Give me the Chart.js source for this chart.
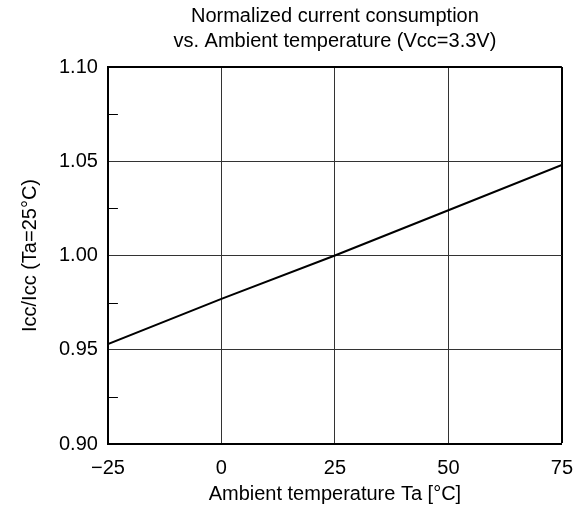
<!DOCTYPE html>
<html>
<head>
<meta charset="utf-8">
<script src="https://cdn.jsdelivr.net/npm/chart.js@4"></script>
<style>
  html, body { margin: 0; padding: 0; background: #fff; }
  #wrap { width: 587px; height: 511px; }
</style>
</head>
<body>
<div id="wrap"><canvas id="myChart" width="587" height="511"></canvas></div>
<script>
// values
const temps = [-25, 0, 25, 50, 75];
const ratio = [0.953, 0.977, 1.000, 1.024, 1.048];
const xTicks = [-25, 0, 25, 50, 75];
const yTicks = ['0.90', '0.95', '1.00', '1.05', '1.10'];

const font = 'Liberation Sans, Arial, sans-serif';

// short minor ticks on the inside of the left axis
const minorTicks = {
  id: 'minorTicks',
  afterDraw(chart) {
    const { ctx, chartArea } = chart;
    const y = chart.scales.y;
    ctx.save();
    ctx.strokeStyle = '#000';
    ctx.lineWidth = 1;
    [0.925, 0.975, 1.025, 1.075].forEach((v) => {
      const py = Math.round(y.getPixelForValue(v)) + 0.5;
      ctx.beginPath();
      ctx.moveTo(chartArea.left, py);
      ctx.lineTo(chartArea.left + 10, py);
      ctx.stroke();
    });
    ctx.restore();
  }
};

const ctx = document.getElementById('myChart');

new Chart(ctx, {
  type: 'line',
  data: {
    datasets: [
      {
        data: temps.map((t, i) => ({ x: t, y: ratio[i] })),
        borderColor: '#000',
        borderWidth: 2,
        pointRadius: 0,
        tension: 0,
      },
    ],
  },
  options: {
    responsive: false,
    animation: false,
    layout: { padding: { top: 4, right: 8, left: 8, bottom: 7 } },
    plugins: {
      legend: { display: false },
      tooltip: { enabled: false },
      title: {
        display: true,
        fullSize: false,
        text: ['Normalized current consumption', 'vs. Ambient temperature (Vcc=3.3V)'],
        color: '#000',
        font: { family: font, size: 20, weight: 'normal', lineHeight: 1.25 },
        padding: { top: 0, bottom: 13 },
      },
    },
    scales: {
      x: {
        type: 'linear',
        min: -25,
        max: 75,
        afterBuildTicks: (axis) => {
          axis.ticks = xTicks.map((v) => ({ value: v }));
        },
        ticks: {
          color: '#000',
          font: { family: font, size: 20, lineHeight: 1.0 },
          padding: 14,
          maxRotation: 0,
          callback: (v) => (v < 0 ? '\u2212' + Math.abs(v) : String(v)),
        },
        grid: {
          drawTicks: false,
          color: (c) => (c.tick && c.tick.value === 75 ? '#000' : '#333'),
          lineWidth: (c) => (c.tick && c.tick.value === 75 ? 2 : 1),
        },
        border: { color: '#000', width: 2 },
        title: {
          display: true,
          text: 'Ambient temperature Ta [°C]',
          color: '#000',
          font: { family: font, size: 20, lineHeight: 1.0 },
          padding: { top: -8, bottom: 0 },
        },
      },
      y: {
        min: 0.9,
        max: 1.1,
        afterBuildTicks: (axis) => {
          axis.ticks = yTicks.map((v) => ({ value: parseFloat(v) }));
        },
        ticks: {
          color: '#000',
          font: { family: font, size: 20 },
          padding: 10,
          callback: (v, i) => yTicks[i],
        },
        grid: {
          drawTicks: false,
          color: (c) => (c.tick && c.tick.value > 1.09 ? '#000' : '#333'),
          lineWidth: (c) => (c.tick && c.tick.value > 1.09 ? 2 : 1),
        },
        border: { color: '#000', width: 2 },
        title: {
          display: true,
          text: 'Icc/Icc (Ta=25°C)',
          color: '#000',
          font: { family: font, size: 20 },
          padding: { top: 10, bottom: 7 },
        },
      },
    },
  },
  plugins: [minorTicks],
});
</script>
</body>
</html>
